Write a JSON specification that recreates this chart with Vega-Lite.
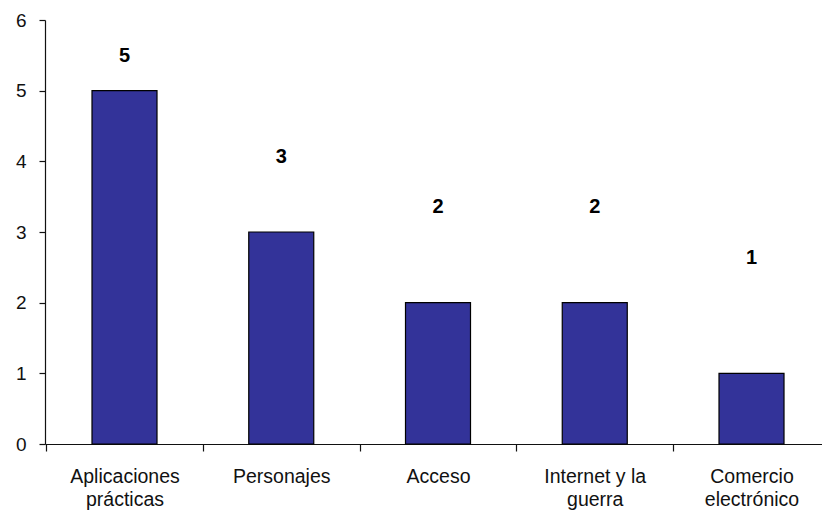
{
  "$schema": "https://vega.github.io/schema/vega-lite/v6.json",
  "width": 777,
  "height": 424,
  "autosize": "none",
  "padding": {"left": 45, "top": 20, "right": 0, "bottom": 68},
  "background": "white",
  "config": {
    "view": {"stroke": null},
    "font": "Liberation Sans",
    "axis": {
      "domainColor": "#111",
      "tickColor": "#111",
      "domainWidth": 1.2,
      "tickWidth": 1.2,
      "labelColor": "#111",
      "labelFont": "Liberation Sans",
      "labelFontSize": 19,
      "grid": false,
      "title": null
    }
  },
  "data": {
    "values": [
      {"tema": "Aplicaciones prácticas", "n": 5},
      {"tema": "Personajes", "n": 3},
      {"tema": "Acceso", "n": 2},
      {"tema": "Internet y la guerra", "n": 2},
      {"tema": "Comercio electrónico", "n": 1}
    ]
  },
  "encoding": {
    "x": {
      "field": "tema",
      "type": "nominal",
      "sort": null,
      "scale": {"paddingInner": 0.5853, "paddingOuter": 0.2711, "align": 0.553},
      "axis": {
        "labelAngle": 0,
        "ticks": true,
        "tickOffset": -78.4,
        "labelOffset": 78.4,
        "tickSize": 7,
        "labelPadding": 16,
        "labelFontSize": 19.5,
        "labelBaseline": "top",
        "labelLineHeight": 23,
        "labelLimit": 200,
        "labelExpr": "datum.value == 'Internet y la guerra' ? ['Internet y la', 'guerra'] : split(datum.label, ' ')"
      }
    }
  },
  "layer": [
    {
      "mark": {"type": "bar", "color": "#333399", "stroke": "#000", "strokeWidth": 1.2},
      "encoding": {
        "y": {
          "field": "n",
          "type": "quantitative",
          "scale": {"domain": [0, 6], "nice": false},
          "axis": {"values": [0, 1, 2, 3, 4, 5, 6], "tickSize": 6, "labelPadding": 13, "format": "d"}
        }
      }
    },
    {
      "mark": {"type": "text", "fontWeight": "bold", "fontSize": 20, "baseline": "middle", "color": "#000"},
      "encoding": {
        "y": {
          "field": "n",
          "type": "quantitative",
          "scale": {"domain": [-2.7, 5.72], "nice": false, "zero": false},
          "axis": null
        },
        "text": {"field": "n", "type": "quantitative"}
      }
    }
  ],
  "resolve": {"scale": {"y": "independent"}}
}
